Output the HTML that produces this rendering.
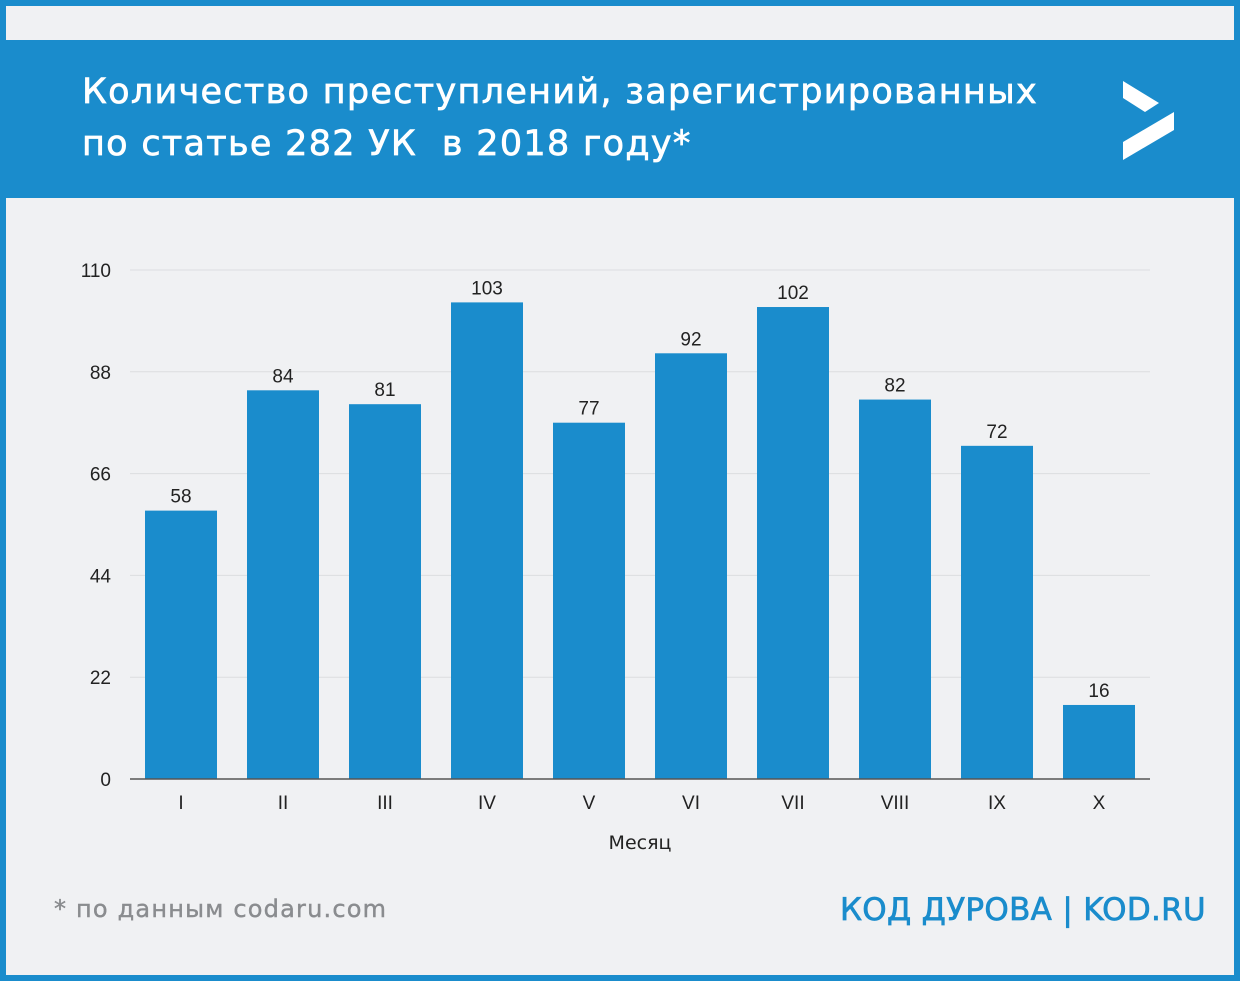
<!DOCTYPE html>
<html><head><meta charset="utf-8"><style>
html,body{margin:0;padding:0}
body{width:1240px;height:981px;position:relative;background:#1a8ccc;overflow:hidden;font-family:"Liberation Sans",sans-serif}
#inner{position:absolute;left:6px;top:6px;width:1228px;height:969px;background:#f0f1f3}
#banner{position:absolute;left:6px;top:40px;width:1228px;height:158px;background:#1a8ccc}
#title{position:absolute;left:82px;top:66px;color:#fff;font-family:"DejaVu Sans","Liberation Sans",sans-serif;font-size:35px;line-height:52px;letter-spacing:1.3px;-webkit-text-stroke:0.7px #fff}
#src{position:absolute;left:54px;top:895px;color:#8a8c8f;font-family:"DejaVu Sans",sans-serif;font-size:24px;letter-spacing:1.2px;-webkit-text-stroke:0.4px #8a8c8f}
#brand{position:absolute;right:34px;top:892px;color:#1a8ccc;font-family:"DejaVu Sans",sans-serif;font-size:31px;letter-spacing:0.3px;-webkit-text-stroke:0.7px #1a8ccc}
svg{position:absolute;left:0;top:0}
</style></head><body>
<div id="inner"></div>
<div id="banner"></div>
<div id="title">Количество преступлений, зарегистрированных<br>по статье 282 УК&nbsp; в 2018 году*</div>
<div id="src">* по данным codaru.com</div>
<div id="brand">КОД ДУРОВА | KOD.RU</div>
<svg width="1240" height="981" id="chart">
<g fill="#fff">
<polygon points="1123,81 1159,103 1145,112 1123,98"/>
<polygon points="1174,112 1174,130 1123,160 1123,142"/>
</g>
</svg>
<script>
const categories=["I","II","III","IV","V","VI","VII","VIII","IX","X"];
const values=[58,84,81,103,77,92,102,82,72,16];
const ticks=[0,22,44,66,88,110];
const NS="http://www.w3.org/2000/svg";
const svg=document.getElementById('chart');
const y0=779,yTop=270,yMax=110;
function y(v){return y0-(v/yMax)*(y0-yTop);}
const xStart=130,xEnd=1150,step=(xEnd-xStart)/categories.length,bw=72;
function xc(i){return xStart+step*(i+0.5);}
function mk(tag,attrs,text){const e=document.createElementNS(NS,tag);for(const k in attrs)e.setAttribute(k,attrs[k]);if(text!==undefined)e.textContent=text;svg.appendChild(e);return e;}
ticks.forEach(t=>{
 if(t>0){const l=mk('line',{x1:xStart,x2:xEnd,y1:y(t),y2:y(t),stroke:'#dcdde0','stroke-width':1});
 
 }
 const tx=mk('text',{x:111,y:y(t)+7,'text-anchor':'end','font-size':19,fill:'#222','font-family':'Liberation Sans, sans-serif'},t);
 
 
});
values.forEach((v,i)=>{
 const r=mk('rect',{x:xc(i)-bw/2,y:y(v),width:bw,height:y0-y(v),fill:'#1a8ccc'});
 
 
 const t=mk('text',{x:xc(i),y:y(v)-8,'text-anchor':'middle','font-size':19,fill:'#222','font-family':'Liberation Sans, sans-serif'},v);
 
 
 const c=mk('text',{x:xc(i),y:809,'text-anchor':'middle','font-size':19,fill:'#222','font-family':'Liberation Sans, sans-serif'},categories[i]);
 
 
});
const ax=mk('line',{x1:xStart,x2:xEnd,y1:y0,y2:y0,stroke:'#555','stroke-width':1.5});


const xt=mk('text',{x:640,y:849,'text-anchor':'middle','font-size':19,fill:'#222','font-family':'DejaVu Sans, sans-serif'},'Месяц');


</script>
</body></html>
